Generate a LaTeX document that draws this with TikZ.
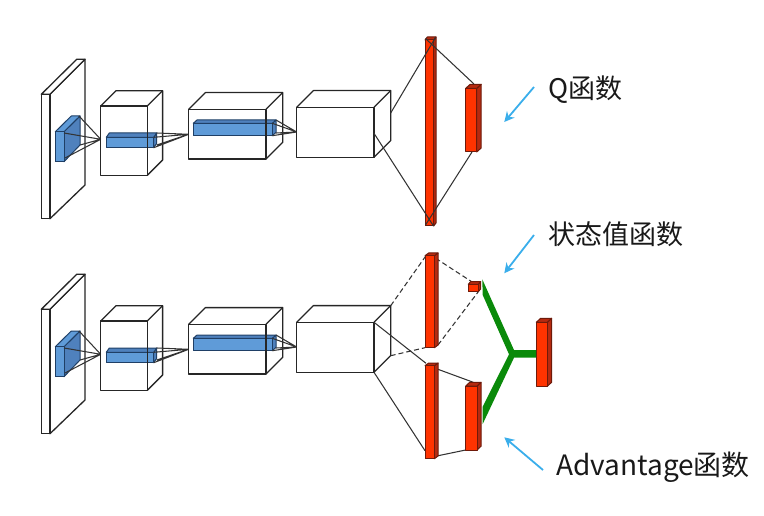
\documentclass[tikz,border=0pt]{standalone}
\usepackage{fontspec}
\setmainfont{Noto Sans CJK SC}
\usetikzlibrary{arrows.meta}
\definecolor{redf}{HTML}{FF3300}
\definecolor{reds}{HTML}{B52A10}
\definecolor{redl}{HTML}{6E1A0A}
\definecolor{bluef}{HTML}{5F9BD8}
\definecolor{blues}{HTML}{4F81BD}
\definecolor{bluel}{HTML}{1F3F66}
\definecolor{arrowc}{HTML}{3AAEEB}
\definecolor{greenf}{HTML}{0A8A0A}
\tikzset{
  edge/.style={draw=black!85,line width=1.3pt},
  thin edge/.style={draw=black!80,line width=1.05pt},
  dash edge/.style={thin edge,dash pattern=on 5pt off 3pt},
  hint/.style={draw=arrowc,line width=1.8pt,-{Stealth[length=10pt,width=10pt]}},
  label/.style={anchor=base west,inner sep=0pt,font=\fontsize{27}{32}\selectfont,text=black!90},
}
% #1 x, #2 y (front top left), #3 w, #4 h, #5 dx, #6 dy, #7 fill, #8 side fill, #9 line
\newcommand{\cuboid}[9]{%
  \filldraw[draw=#9,fill=#8,line width=1pt,line join=round] (#1+#3,#2)--(#1+#3+#5,#2-#6)--(#1+#3+#5,#2+#4-#6)--(#1+#3,#2+#4)--cycle;
  \filldraw[draw=#9,fill=#8,line width=1pt,line join=round] (#1,#2)--(#1+#5,#2-#6)--(#1+#3+#5,#2-#6)--(#1+#3,#2)--cycle;
  \filldraw[draw=#9,fill=#7,line width=1pt,line join=round] (#1,#2) rectangle (#1+#3,#2+#4);
}
\newcommand{\wirebox}[6]{%
  \draw[edge,line join=round] (#1,#2) rectangle (#1+#3,#2+#4);
  \draw[edge,line join=round] (#1,#2)--(#1+#5,#2-#6)--(#1+#3+#5,#2-#6)--(#1+#3+#5,#2+#4-#6)--(#1+#3,#2+#4);
  \draw[edge] (#1+#3,#2)--(#1+#3+#5,#2-#6);
}
\newcommand{\stack}[1]{%
  \filldraw[edge,fill=white,line join=round] (50,94.3+#1)--(85,59.3+#1)--(85,185+#1)--(50,218.7+#1)--cycle;
  \filldraw[edge,fill=white,line join=round] (41.3,94.3+#1)--(76.7,59.3+#1)--(85,59.3+#1)--(50,94.3+#1)--cycle;
  \filldraw[edge,fill=white] (41.3,94.3+#1) rectangle (50,218.7+#1);
  \filldraw[draw=bluel,fill=blues,line width=1pt,line join=round] (64,131.7+#1)--(80,116+#1)--(80,145+#1)--(64,161.7+#1)--cycle;
  \filldraw[draw=bluel,fill=bluef,line width=1pt,line join=round] (55.3,131.7+#1)--(71.3,116+#1)--(80,116+#1)--(64,131.7+#1)--cycle;
  \filldraw[draw=bluel,fill=bluef,line width=1pt] (55.3,131.7+#1) rectangle (64,161.7+#1);
  \draw[thin edge] (79,116+#1)--(100.7,139.3+#1) (64,133+#1)--(100.7,139.3+#1) (80,145+#1)--(100.7,139.3+#1) (65,158+#1)--(100.7,139.3+#1);
  \cuboid{106.3}{137.3+#1}{47.4}{10.4}{3}{4.3}{bluef}{blues}{bluel}
  \wirebox{100.7}{106+#1}{46.6}{69.3}{15.3}{15.3}
  \draw[thin edge] (156.7,133+#1)--(188.7,134.3+#1) (153.7,137.3+#1)--(188.7,134.3+#1) (153.7,147.7+#1)--(188.7,134.3+#1) (156.7,145+#1)--(188.7,134.3+#1);
  \cuboid{193.3}{123.3+#1}{79}{12.4}{3.7}{3.3}{bluef}{blues}{bluel}
  \wirebox{188.7}{109.3+#1}{77.3}{49.7}{16.7}{16.7}
  \draw[thin edge] (276,120+#1)--(296.7,132+#1) (272.3,123.3+#1)--(296.7,132+#1) (272.3,135.7+#1)--(296.7,132+#1) (276,133+#1)--(296.7,132+#1);
  \wirebox{296.7}{107.3+#1}{77.3}{50}{16.7}{16.7}
}
\begin{document}
\begin{tikzpicture}[x=1pt,y=-1pt]
\useasboundingbox (0,0) rectangle (764,516);
\stack{0}
\stack{215}
% upper head: the four lines cross over the ends of the tall bar
\coordinate (b3t) at (390.7,113);
\coordinate (b3b) at (374,133.3);
\coordinate (r1tr) at (435.5,37.5);
\coordinate (r1tl) at (425.5,38.5);
\coordinate (r1br) at (433.5,226);
\coordinate (r1bl) at (425.5,225);
\coordinate (r2t) at (474,84);
\coordinate (r2b) at (472,152);
\cuboid{425}{40}{8.7}{186}{2.3}{3}{redf}{reds}{redl}
\cuboid{465.7}{88.3}{11}{63.7}{4.5}{4}{redf}{reds}{redl}
\draw[thin edge] (b3t)--(r1tr);
\draw[thin edge] (b3b)--(r1br);
\draw[thin edge] (r1tl)--(r2t);
\draw[thin edge] (r1bl)--(r2b);
% lower head
\coordinate (lb3a) at (390.7,305.7);
\coordinate (lb3b) at (390.7,355.7);
\coordinate (lb3c) at (374,322.3);
\coordinate (lb3d) at (374,372.3);
\draw[dash edge] (lb3a)--(426,255.7);
\draw[dash edge] (lb3b)--(425,347.7);
\draw[thin edge] (lb3c)--(426,363.3);
\draw[thin edge] (lb3d)--(425,450.7);
\draw[thin edge] (438,369.3)--(473.3,382.3);
\draw[thin edge] (436.7,456)--(465.7,450);
\draw[dash edge] (435.7,258.3)--(471.7,281.7);
\draw[dash edge] (438,345)--(478.3,291.7);
\cuboid{425}{255.7}{9.4}{92}{3.7}{2.7}{redf}{reds}{redl}
\cuboid{468.3}{284.3}{10}{7.4}{2.3}{2.7}{redf}{reds}{redl}
\cuboid{425}{365.7}{9.4}{93}{3.7}{2.7}{redf}{reds}{redl}
\cuboid{465.7}{386}{11.3}{64}{4}{3.7}{redf}{reds}{redl}
\cuboid{536.3}{322.3}{11}{64}{4.3}{4}{redf}{reds}{redl}
% green merge
\fill[greenf] (482.3,279.3)--(514,350)--(536,350)--(536,357.7)--(514,357.7)--(482.7,424)--(482.7,406.7)--(509,354.3)--(482.7,295)--cycle;
% hints
\coordinate (qa) at (534,87);
\coordinate (qb) at (504.3,122);
\coordinate (va) at (534,235);
\coordinate (vb) at (504.3,273.3);
\coordinate (aa) at (543,470);
\coordinate (ab) at (504.3,437.3);
\draw[hint] (qa)--(qb);
\draw[hint] (va)--(vb);
\draw[hint] (aa)--(ab);
\node[label] (lq) at (548,99) {Q函数};
\node[label] (lv) at (548,244) {状态值函数};
\node[label] (la) at (556,475) {\fontsize{28}{32}\selectfont Advantage函数};
\end{tikzpicture}
\end{document}
